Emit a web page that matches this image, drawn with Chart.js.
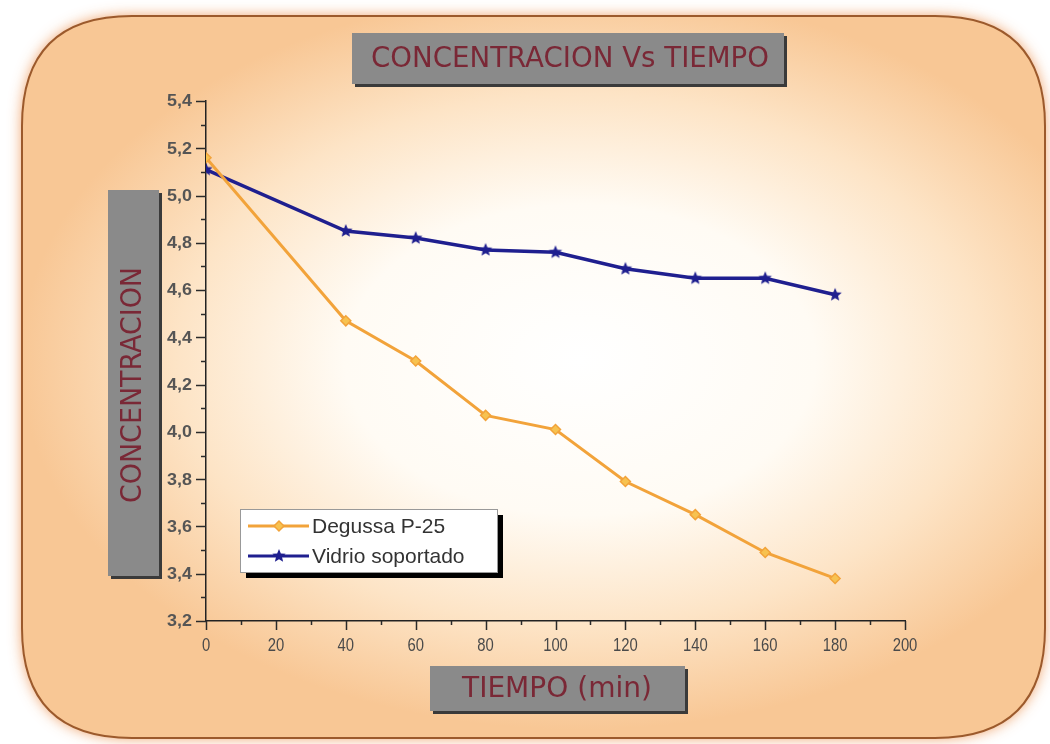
<!DOCTYPE html>
<html>
<head>
<meta charset="utf-8">
<script src="https://cdn.jsdelivr.net/npm/chart.js@4.4.1/dist/chart.umd.min.js"></script>
<style>
html,body{margin:0;padding:0;background:#fff;}
#wrap{width:1050px;height:744px;position:relative;}
</style>
</head>
<body>
<div id="wrap"><canvas id="c" width="1050" height="744"></canvas></div>
<script>
// ---- data ----
const tiempo = [0, 40, 60, 80, 100, 120, 140, 160, 180];
const degussa = [5.16, 4.47, 4.30, 4.07, 4.01, 3.79, 3.65, 3.49, 3.38];
const vidrio = [5.11, 4.85, 4.82, 4.77, 4.76, 4.69, 4.65, 4.65, 4.58];
const seriesNames = ["Degussa P-25", "Vidrio soportado"];
const chartTitle = "CONCENTRACION Vs TIEMPO";
const xTitle = "TIEMPO (min)";
const yTitle = "CONCENTRACION";

const ORANGE = "#f2a33a";
const BLUE = "#1f1f8f";
const TEXT_RED = "#7a2836";
const BOX_GRAY = "#8a8a8a";
const TICK_TEXT = "#4a4a4a";

function starImage(r, color) {
  const c = document.createElement('canvas');
  c.width = c.height = r * 2 + 2;
  const g = c.getContext('2d');
  g.translate(r + 1, r + 1);
  g.beginPath();
  for (let i = 0; i < 10; i++) {
    const rr = i % 2 === 0 ? r : r * 0.45;
    const a = -Math.PI / 2 + i * Math.PI / 5;
    g[i === 0 ? 'moveTo' : 'lineTo'](rr * Math.cos(a), rr * Math.sin(a));
  }
  g.closePath();
  g.fillStyle = color;
  g.fill();
  return c;
}
const starPt = starImage(7, BLUE);

function roundRectPath(ctx, x, y, w, h, r) {
  ctx.beginPath();
  ctx.moveTo(x + r, y);
  ctx.lineTo(x + w - r, y);
  ctx.quadraticCurveTo(x + w, y, x + w, y + r);
  ctx.lineTo(x + w, y + h - r);
  ctx.quadraticCurveTo(x + w, y + h, x + w - r, y + h);
  ctx.lineTo(x + r, y + h);
  ctx.quadraticCurveTo(x, y + h, x, y + h - r);
  ctx.lineTo(x, y + r);
  ctx.quadraticCurveTo(x, y, x + r, y);
  ctx.closePath();
}

function fitText(ctx, text, cx, cy, font, targetW, color, rot) {
  ctx.save();
  ctx.font = font;
  ctx.fillStyle = color;
  ctx.textAlign = 'center';
  ctx.textBaseline = 'middle';
  ctx.translate(cx, cy);
  if (rot) ctx.rotate(rot);
  const w = ctx.measureText(text).width;
  ctx.scale(targetW / w, 1);
  ctx.fillText(text, 0, 0);
  ctx.restore();
}

function scaledText(ctx, text, x, y, font, sx, align, color) {
  ctx.save();
  ctx.font = font;
  ctx.fillStyle = color;
  ctx.textAlign = align;
  ctx.textBaseline = 'middle';
  ctx.translate(x, y);
  ctx.scale(sx, 1);
  ctx.fillText(text, 0, 0);
  ctx.restore();
}

function grayBox(ctx, x, y, w, h) {
  ctx.save();
  ctx.fillStyle = '#3a3a3a';
  ctx.fillRect(x + 3, y + 3, w, h);
  ctx.fillStyle = BOX_GRAY;
  ctx.fillRect(x, y, w, h);
  ctx.restore();
}

const bgPlugin = {
  id: 'bg',
  beforeDraw(chart) {
    const ctx = chart.ctx;
    ctx.save();
    ctx.fillStyle = '#ffffff';
    ctx.fillRect(0, 0, chart.width, chart.height);
    roundRectPath(ctx, 22, 16, 1023, 722, 110);
    ctx.shadowColor = 'rgba(235,140,70,0.85)';
    ctx.shadowBlur = 14;
    ctx.fillStyle = '#f8c897';
    ctx.fill();
    ctx.shadowBlur = 0;
    ctx.shadowColor = 'transparent';
    roundRectPath(ctx, 22, 16, 1023, 722, 110);
    ctx.save();
    ctx.translate(580, 360);
    ctx.scale(1, 0.66);
    const g = ctx.createRadialGradient(0, 0, 0, 0, 0, 560);
    g.addColorStop(0, '#ffffff');
    g.addColorStop(0.42, '#fffbf4');
    g.addColorStop(0.72, '#fde4c6');
    g.addColorStop(1, '#f8c795');
    ctx.fillStyle = g;
    ctx.fill();
    ctx.restore();
    roundRectPath(ctx, 22, 16, 1023, 722, 110);
    ctx.strokeStyle = '#9c5a2c';
    ctx.lineWidth = 2;
    ctx.stroke();
    ctx.restore();
  },
  afterDraw(chart) {
    const ctx = chart.ctx;
    const xs = chart.scales.x, ys = chart.scales.y;
    const ca = chart.chartArea;
    ctx.save();
    ctx.strokeStyle = '#2a2a2a';
    ctx.lineWidth = 1.5;
    for (let v = xs.min; v <= xs.max + 1e-9; v += 10) {
      const px = Math.round(xs.getPixelForValue(v)) + 0.5;
      const len = (Math.round(v) % 20 === 0) ? 9 : 4;
      ctx.beginPath();
      ctx.moveTo(px, ca.bottom);
      ctx.lineTo(px, ca.bottom + len);
      ctx.stroke();
    }
    for (let i = 0; i <= 22; i++) {
      const v = ys.min + i * 0.1;
      const py = Math.round(ys.getPixelForValue(v)) + 0.5;
      const len = (i % 2 === 0) ? 10 : 5;
      ctx.beginPath();
      ctx.moveTo(ca.left, py);
      ctx.lineTo(ca.left - len, py);
      ctx.stroke();
    }
    xs.ticks.forEach(t => {
      const px = xs.getPixelForValue(t.value);
      scaledText(ctx, t.label, px, ca.bottom + 25, '19px "Liberation Sans", Arial, sans-serif', 0.78, 'center', TICK_TEXT);
    });
    ys.ticks.forEach(t => {
      const py = ys.getPixelForValue(t.value);
      scaledText(ctx, t.label, ca.left - 14, py + 1, 'bold 16px "Liberation Sans", Arial, sans-serif', 1.12, 'right', '#555');
    });
    grayBox(ctx, 352, 33, 432, 51);
    fitText(ctx, chartTitle, 570, 60, '28px "DejaVu Sans"', 398, TEXT_RED);
    grayBox(ctx, 108, 190, 51, 386);
    fitText(ctx, yTitle, 134, 385, '28px "DejaVu Sans"', 236, TEXT_RED, -Math.PI / 2);
    grayBox(ctx, 430, 666, 255, 45);
    fitText(ctx, xTitle, 557, 690, '28px "DejaVu Sans"', 190, TEXT_RED);
    const lx = 240, ly = 509, lw = 257, lh = 63;
    ctx.fillStyle = '#000';
    ctx.fillRect(lx + 6, ly + 6, lw, lh);
    ctx.fillStyle = '#fff';
    ctx.fillRect(lx, ly, lw, lh);
    ctx.strokeStyle = '#999';
    ctx.lineWidth = 1;
    ctx.strokeRect(lx + 0.5, ly + 0.5, lw, lh);
    const rows = [ly + 17, ly + 47];
    chart.data.datasets.forEach((ds, i) => {
      const y = rows[i];
      ctx.strokeStyle = ds.borderColor;
      ctx.lineWidth = 3;
      ctx.beginPath();
      ctx.moveTo(248, y);
      ctx.lineTo(309, y);
      ctx.stroke();
      if (i === 0) {
        ctx.save();
        ctx.translate(279, y);
        ctx.rotate(Math.PI / 4);
        ctx.fillStyle = ds.pointBackgroundColor;
        ctx.strokeStyle = ds.pointBorderColor;
        ctx.lineWidth = 1.5;
        ctx.fillRect(-3.5, -3.5, 7, 7);
        ctx.strokeRect(-3.5, -3.5, 7, 7);
        ctx.restore();
      } else {
        ctx.drawImage(starPt, 279 - starPt.width / 2, y - starPt.height / 2);
      }
      ctx.font = '21px "Liberation Sans", Arial, sans-serif';
      ctx.fillStyle = '#333';
      ctx.textAlign = 'left';
      ctx.textBaseline = 'middle';
      ctx.fillText(ds.label, 312, y + 1);
    });
    ctx.restore();
  }
};

new Chart(document.getElementById('c'), {
  type: 'line',
  data: {
    datasets: [
      {
        label: seriesNames[0],
        data: tiempo.map((t, i) => ({ x: t, y: degussa[i] })),
        borderColor: ORANGE,
        borderWidth: 3,
        pointStyle: 'rectRot',
        pointRadius: 5,
        pointBackgroundColor: '#f7c250',
        pointBorderColor: ORANGE,
        pointBorderWidth: 1.5,
        tension: 0
      },
      {
        label: seriesNames[1],
        data: tiempo.map((t, i) => ({ x: t, y: vidrio[i] })),
        borderColor: BLUE,
        borderWidth: 3.5,
        pointStyle: starPt,
        pointBackgroundColor: BLUE,
        pointBorderColor: BLUE,
        tension: 0
      }
    ]
  },
  options: {
    responsive: false,
    animation: false,
    layout: { padding: { left: 0, right: 145, top: 101, bottom: 83 } },
    plugins: { legend: { display: false }, title: { display: false }, tooltip: { enabled: false } },
    scales: {
      x: {
        type: 'linear', min: 0, max: 200,
        grid: { display: false },
        border: { display: true, color: '#222', width: 1.5 },
        ticks: { stepSize: 20, display: false, maxRotation: 0 },
        afterFit(s) { s.height = 40; }
      },
      y: {
        type: 'linear', min: 3.2, max: 5.4,
        grid: { display: false },
        border: { display: true, color: '#222', width: 1.5 },
        ticks: {
          stepSize: 0.2, display: false,
          callback: v => Number(v).toFixed(1).replace('.', ',')
        },
        afterFit(s) { s.width = 206; }
      }
    }
  },
  plugins: [bgPlugin]
});
</script>
</body>
</html>
